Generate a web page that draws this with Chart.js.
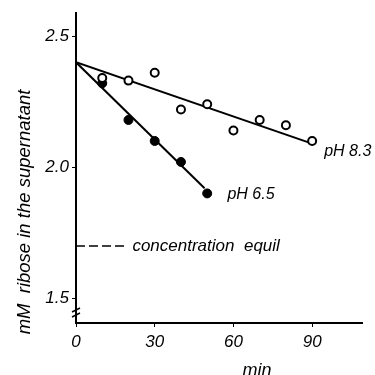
<!DOCTYPE html>
<html>
<head>
<meta charset="utf-8">
<script src="https://cdn.jsdelivr.net/npm/chart.js@4/dist/chart.umd.min.js"></script>
<style>
  html, body { margin: 0; padding: 0; background: #fff; }
  #wrap { width: 375px; height: 375px; }
</style>
</head>
<body>
<div id="wrap"><canvas id="riboseChart"></canvas></div>
<script>
// Measured ribose in the supernatant (mM) against time (min)
const ph83Times = [10, 20, 30, 40, 50, 60, 70, 80, 90];
const ph83Values = [2.34, 2.33, 2.36, 2.22, 2.24, 2.14, 2.18, 2.16, 2.10];
const ph65Times = [10, 20, 30, 40, 50];
const ph65Values = [2.32, 2.18, 2.10, 2.02, 1.90];

// Fitted lines drawn through the points
const ph83FitTimes = [0, 90];
const ph83FitValues = [2.40, 2.09];
const ph65FitTimes = [0, 49];
const ph65FitValues = [2.40, 1.92];

// Equilibrium concentration marker
const equilTimes = [0, 19];
const equilValues = [1.70, 1.70];

const xTicks = [0, 30, 60, 90];
const yTicks = [1.5, 2.0, 2.5];

const FONT = "'Liberation Sans', Arial, sans-serif";

function toPoints(xs, ys) {
    return xs.map((x, i) => ({ x: x, y: ys[i] }));
}

// Texts placed in data coordinates, plus the axis break
const labelPlugin = {
    id: 'labels',
    afterDraw(chart) {
        const ctx = chart.ctx;
        const x = chart.scales.x;
        const y = chart.scales.y;
        ctx.save();
        ctx.fillStyle = '#000';
        ctx.textBaseline = 'middle';
        ctx.textAlign = 'left';
        ctx.font = 'italic 16px ' + FONT;
        ctx.fillText('pH 8.3', x.getPixelForValue(94.6), y.getPixelForValue(2.058));
        ctx.fillText('pH 6.5', x.getPixelForValue(57.7), y.getPixelForValue(1.896));
        ctx.font = 'italic 17px ' + FONT;
        ctx.fillText('concentration  equil', x.getPixelForValue(21.5), y.getPixelForValue(1.70));

        // y axis title
        ctx.save();
        ctx.translate(25, 212);
        ctx.rotate(-Math.PI / 2);
        ctx.textAlign = 'center';
        ctx.font = 'italic 18.5px ' + FONT;
        ctx.fillText('mM  ribose in the supernatant', 0, 0);
        ctx.restore();

        // x axis title
        ctx.textAlign = 'center';
        ctx.textBaseline = 'alphabetic';
        ctx.font = 'italic 18px ' + FONT;
        ctx.fillText('min', 257, 376);

        // axis break on the y axis
        const ax = chart.chartArea.left;
        ctx.strokeStyle = '#000';
        ctx.lineWidth = 1.5;
        [310, 315].forEach(by => {
            ctx.beginPath();
            ctx.moveTo(ax - 4, by + 2);
            ctx.lineTo(ax + 4, by - 2);
            ctx.stroke();
        });
        ctx.restore();
    }
};

const tickFont = { family: FONT, size: 17, style: 'italic' };

new Chart(document.getElementById('riboseChart'), {
    type: 'scatter',
    data: {
        datasets: [
            {
                label: 'pH 8.3',
                data: toPoints(ph83Times, ph83Values),
                pointRadius: 4,
                pointBackgroundColor: '#fff',
                pointBorderColor: '#000',
                pointBorderWidth: 2
            },
            {
                label: 'pH 6.5',
                data: toPoints(ph65Times, ph65Values),
                pointRadius: 4.5,
                pointBackgroundColor: '#000',
                pointBorderColor: '#000',
                pointBorderWidth: 1
            },
            {
                label: 'pH 8.3 fit',
                data: toPoints(ph83FitTimes, ph83FitValues),
                showLine: true,
                borderColor: '#000',
                borderWidth: 2,
                pointRadius: 0
            },
            {
                label: 'pH 6.5 fit',
                data: toPoints(ph65FitTimes, ph65FitValues),
                showLine: true,
                borderColor: '#000',
                borderWidth: 2,
                pointRadius: 0
            },
            {
                label: 'equilibrium',
                data: toPoints(equilTimes, equilValues),
                showLine: true,
                borderColor: '#000',
                borderWidth: 1.5,
                borderDash: [9, 4],
                pointRadius: 0
            }
        ]
    },
    options: {
        responsive: true,
        maintainAspectRatio: false,
        animation: false,
        layout: { padding: { left: 0, top: 10, right: 13, bottom: 0 } },
        plugins: {
            legend: { display: false },
            tooltip: { enabled: false }
        },
        scales: {
            x: {
                type: 'linear',
                min: 0,
                max: 109,
                afterBuildTicks: s => { s.ticks = xTicks.map(v => ({ value: v })); },
                afterFit: s => { s.height = 52; },
                border: { display: true, color: '#000', width: 2 },
                grid: { drawOnChartArea: false, drawTicks: true, tickLength: 4, color: '#000' },
                ticks: { color: '#000', font: tickFont, padding: 5, maxRotation: 0, autoSkip: false }
            },
            y: {
                type: 'linear',
                min: 1.406,
                max: 2.587,
                afterBuildTicks: s => { s.ticks = yTicks.map(v => ({ value: v })); },
                afterFit: s => { s.width = 76; },
                border: { display: true, color: '#000', width: 2 },
                grid: { drawOnChartArea: false, drawTicks: true, tickLength: 4, color: '#000' },
                ticks: {
                    color: '#000',
                    font: tickFont,
                    padding: 3,
                    callback: v => v.toFixed(1)
                }
            }
        }
    },
    plugins: [labelPlugin]
});
</script>
</body>
</html>
